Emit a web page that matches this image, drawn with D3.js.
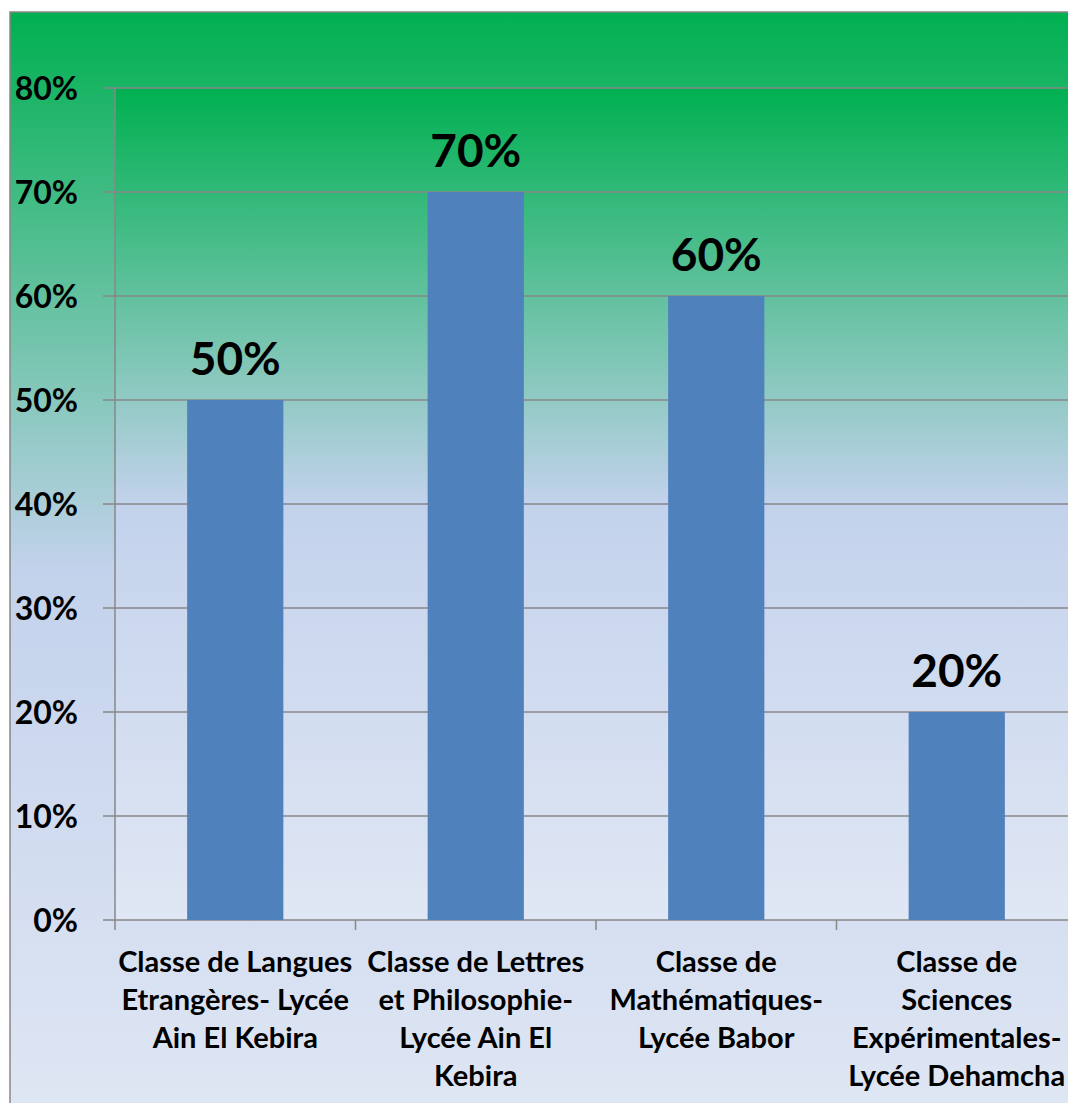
<!DOCTYPE html>
<html>
<head>
<meta charset="utf-8">
<script src="https://cdn.jsdelivr.net/npm/d3@7"></script>
<style>
  html, body { margin: 0; padding: 0; background: #ffffff; }
  svg { display: block; }
  text { font-family: Lato, "Open Sans", "DejaVu Sans", sans-serif; font-weight: 700; fill: #000; }
</style>
</head>
<body>
<svg id="chart" width="1068" height="1103"></svg>
<script>
// Share of students per class (percent)
const categories = [
  "Classe de Langues|Etrangères- Lycée|Ain El Kebira",
  "Classe de Lettres|et Philosophie-|Lycée Ain El|Kebira",
  "Classe de|Mathématiques-|Lycée Babor",
  "Classe de|Sciences|Expérimentales-|Lycée Dehamcha"
];
const values = [50, 70, 60, 20];
const yTicks = [0, 10, 20, 30, 40, 50, 60, 70, 80];

const svg = d3.select("#chart");

// Chart frame (extends past the visible window on right and bottom)
const frame = { x: 10, y: 12, w: 1100, h: 1118 };
const plot = { left: 115, top: 88, right: 1077, bottom: 920 };

const defs = svg.append("defs");
function addGradient(id, y1, y2) {
  const g = defs.append("linearGradient")
    .attr("id", id)
    .attr("gradientUnits", "userSpaceOnUse")
    .attr("x1", 0).attr("x2", 0).attr("y1", y1).attr("y2", y2);
  g.append("stop").attr("offset", "0%").attr("stop-color", "#00b050");
  g.append("stop").attr("offset", "50%").attr("stop-color", "#c3d2ec");
  g.append("stop").attr("offset", "100%").attr("stop-color", "#e0e7f4");
}
addGradient("frameFill", frame.y, frame.y + frame.h);
addGradient("plotFill", plot.top, plot.bottom);

svg.append("rect")
  .attr("x", frame.x).attr("y", frame.y)
  .attr("width", frame.w).attr("height", frame.h)
  .attr("fill", "url(#frameFill)")
  .attr("stroke", "#878787").attr("stroke-width", 1.5);

svg.append("rect")
  .attr("x", plot.left).attr("y", plot.top)
  .attr("width", plot.right - plot.left).attr("height", plot.bottom - plot.top)
  .attr("fill", "url(#plotFill)");

const x = d3.scaleBand()
  .domain(categories)
  .range([plot.left, plot.right])
  .paddingInner(0.6).paddingOuter(0.3);

const y = d3.scaleLinear().domain([0, 80]).range([plot.bottom, plot.top]);

// Horizontal gridlines
svg.append("g")
  .selectAll("line")
  .data(yTicks)
  .join("line")
  .attr("x1", plot.left - 12).attr("x2", plot.right)
  .attr("y1", d => y(d)).attr("y2", d => y(d))
  .attr("stroke", "#878787").attr("stroke-width", 1.5);

// Y axis labels
const yAxis = d3.axisLeft(y).tickValues(yTicks).tickFormat(d => d + "%").tickSize(0).tickPadding(37);
const yg = svg.append("g").attr("transform", `translate(${plot.left},0)`).call(yAxis);
yg.select(".domain").remove();
yg.selectAll("text")
  .attr("font-size", 32)
  .attr("font-family", "Lato, 'Open Sans', sans-serif")
  .attr("font-weight", 700)
  .attr("fill", "#000")
  .attr("dy", "0.36em");

// Vertical axis line
svg.append("line")
  .attr("x1", plot.left).attr("x2", plot.left)
  .attr("y1", plot.top).attr("y2", plot.bottom + 10)
  .attr("stroke", "#878787").attr("stroke-width", 1.5);

// Category dividers below the baseline
const step = (plot.right - plot.left) / categories.length;
svg.append("g")
  .selectAll("line")
  .data(d3.range(1, categories.length))
  .join("line")
  .attr("x1", i => plot.left + i * step).attr("x2", i => plot.left + i * step)
  .attr("y1", plot.bottom).attr("y2", plot.bottom + 10)
  .attr("stroke", "#878787").attr("stroke-width", 1.5);

// Bars
svg.append("g")
  .selectAll("rect")
  .data(values)
  .join("rect")
  .attr("x", (d, i) => x(categories[i]))
  .attr("width", x.bandwidth())
  .attr("y", d => y(d))
  .attr("height", d => plot.bottom - y(d))
  .attr("fill", "#4f81bd");

// Value labels
svg.append("g")
  .selectAll("text")
  .data(values)
  .join("text")
  .attr("x", (d, i) => x(categories[i]) + x.bandwidth() / 2)
  .attr("y", d => y(d) - 25)
  .attr("text-anchor", "middle")
  .attr("font-size", 46)
  .text(d => d + "%");

// Category labels (multi-line)
const cat = svg.append("g")
  .selectAll("text")
  .data(categories)
  .join("text")
  .attr("x", (d, i) => plot.left + (i + 0.5) * step)
  .attr("y", 972)
  .attr("text-anchor", "middle")
  .attr("font-size", 29);
cat.selectAll("tspan")
  .data(d => d.split("|"))
  .join("tspan")
  .attr("x", function() { return this.parentNode.getAttribute("x"); })
  .attr("dy", (d, i) => i === 0 ? 0 : 38)
  .text(d => d);
</script>
</body>
</html>
